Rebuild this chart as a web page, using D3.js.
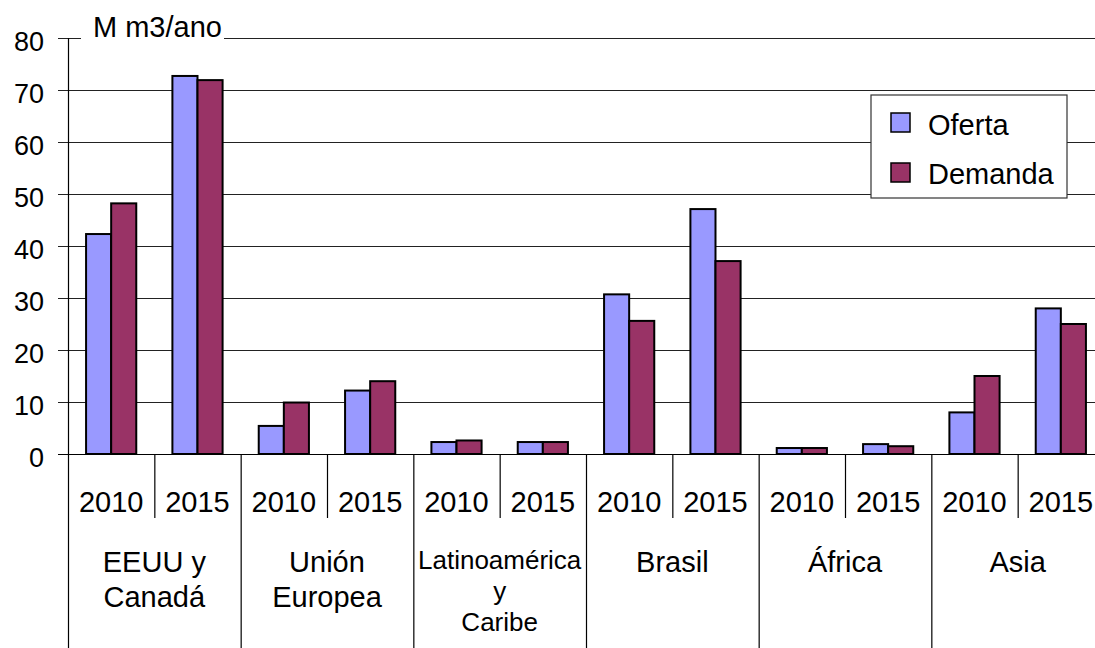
<!DOCTYPE html>
<html>
<head>
<meta charset="utf-8">
<script src="https://cdn.jsdelivr.net/npm/d3@7"></script>
<style>
body { margin: 0; background: #fff; }
text { font-family: "Liberation Sans", Arial, sans-serif; fill: #000; }
</style>
</head>
<body>
<script>
let regions = [['EEUU y', 'Canadá'], ['Unión', 'Europea'], ['Latinoamérica', 'y', 'Caribe'], ['Brasil'], ['África'], ['Asia']];
let years = ['2010', '2015'];
let series = ['Oferta', 'Demanda'];
let oferta = [42.3, 72.7, 5.4, 12.2, 2.3, 2.3, 30.7, 47.1, 1.15, 1.9, 8.0, 28.0];
let demanda = [48.2, 71.9, 9.9, 14.0, 2.6, 2.3, 25.6, 37.1, 1.15, 1.5, 15.0, 25.0];
let yTicks = [0, 10, 20, 30, 40, 50, 60, 70, 80];
let colors = ['#9999ff', '#993366'];

var W = 1095, H = 648;
var plotL = 68, plotT = 38, plotB = 454, plotR = 1104;

var svg = d3.select('body')
    .append('svg')
    .attr('width', W)
    .attr('height', H);

// one slot per region/year
var slots = [];
regions.forEach((r, i) => {
    years.forEach((y, j) => {
        slots.push({key: i + '-' + y, region: i, year: y, idx: slots.length});
    });
});

var xScale = d3.scaleBand()
    .domain(slots.map(d => d.key))
    .range([plotL, plotR]);

var xInner = d3.scaleBand()
    .domain(series)
    .range([0, xScale.bandwidth()])
    .paddingOuter(0.72)
    .paddingInner(0);

var yScale = d3.scaleLinear()
    .domain([0, 80])
    .range([plotB, plotT]);

// grid lines
svg.selectAll('.grid')
    .data(yTicks)
    .enter().append('line')
    .attr('class', 'grid')
    .attr('x1', plotL - 10)
    .attr('x2', W)
    .attr('y1', d => yScale(d) + 0.5)
    .attr('y2', d => yScale(d) + 0.5)
    .style('stroke', d => d === 0 ? '#000' : '#222')
    .style('stroke-width', 1.2);

svg.selectAll('.ylab')
    .data(yTicks)
    .enter().append('text')
    .attr('class', 'ylab')
    .attr('x', 44)
    .attr('y', d => yScale(d) + 13)
    .attr('text-anchor', 'end')
    .style('font-size', '27px')
    .text(d => d);

// unit title sits over the top grid line
svg.append('rect')
    .attr('x', 81)
    .attr('y', 10)
    .attr('width', 143)
    .attr('height', 40)
    .style('fill', '#fff');
svg.append('text')
    .attr('x', 93)
    .attr('y', 37)
    .style('font-size', '29px')
    .text('M m3/ano');

// bars
var groups = svg.selectAll('.slot')
    .data(slots)
    .enter().append('g')
    .attr('class', 'slot')
    .attr('transform', d => 'translate(' + xScale(d.key) + ',0)');

groups.selectAll('rect')
    .data(d => [{s: 'Oferta', v: oferta[d.idx], c: 0}, {s: 'Demanda', v: demanda[d.idx], c: 1}])
    .enter().append('rect')
    .attr('x', d => xInner(d.s))
    .attr('y', d => yScale(d.v))
    .attr('width', xInner.bandwidth())
    .attr('height', d => plotB - yScale(d.v))
    .style('fill', d => colors[d.c])
    .style('stroke', '#000')
    .style('stroke-width', 2);

// y axis line
svg.append('line')
    .attr('x1', plotL + 0.5).attr('x2', plotL + 0.5)
    .attr('y1', plotT).attr('y2', H)
    .style('stroke', '#000').style('stroke-width', 1.2);

// year separators
svg.selectAll('.ysep')
    .data(slots.filter(d => d.year === '2015'))
    .enter().append('line')
    .attr('class', 'ysep')
    .attr('x1', d => xScale(d.key) + 0.5)
    .attr('x2', d => xScale(d.key) + 0.5)
    .attr('y1', plotB)
    .attr('y2', 518)
    .style('stroke', '#000').style('stroke-width', 1.2);

// region separators
svg.selectAll('.rsep')
    .data(slots.filter(d => d.year === '2010' && d.region > 0))
    .enter().append('line')
    .attr('class', 'rsep')
    .attr('x1', d => xScale(d.key) + 0.5)
    .attr('x2', d => xScale(d.key) + 0.5)
    .attr('y1', plotB)
    .attr('y2', H)
    .style('stroke', '#000').style('stroke-width', 1.2);

// year labels
svg.selectAll('.yr')
    .data(slots)
    .enter().append('text')
    .attr('class', 'yr')
    .attr('x', d => xScale(d.key) + xScale.bandwidth() / 2)
    .attr('y', 512)
    .attr('text-anchor', 'middle')
    .style('font-size', '29px')
    .text(d => d.year);

// region labels
var regW = xScale.bandwidth() * 2;
regions.forEach((lines, i) => {
    var cx = plotL + regW * i + regW / 2;
    var small = lines.length > 2;
    lines.forEach((l, j) => {
        svg.append('text')
            .attr('x', cx)
            .attr('y', small ? 569 + j * 31 : 572 + j * 35)
            .attr('text-anchor', 'middle')
            .style('font-size', small ? '26px' : '29px')
            .text(l);
    });
});

// legend
var lg = svg.append('g').attr('transform', 'translate(871,95)');
lg.append('rect')
    .attr('width', 196)
    .attr('height', 103)
    .style('fill', '#fff')
    .style('stroke', '#333')
    .style('stroke-width', 1.2);
series.forEach((s, i) => {
    lg.append('rect')
        .attr('x', 20)
        .attr('y', 18 + i * 50)
        .attr('width', 19)
        .attr('height', 19)
        .style('fill', colors[i])
        .style('stroke', '#000')
        .style('stroke-width', 1.5);
    lg.append('text')
        .attr('x', 57)
        .attr('y', 40 + i * 49)
        .style('font-size', '29px')
        .text(s);
});
</script>
</body>
</html>
